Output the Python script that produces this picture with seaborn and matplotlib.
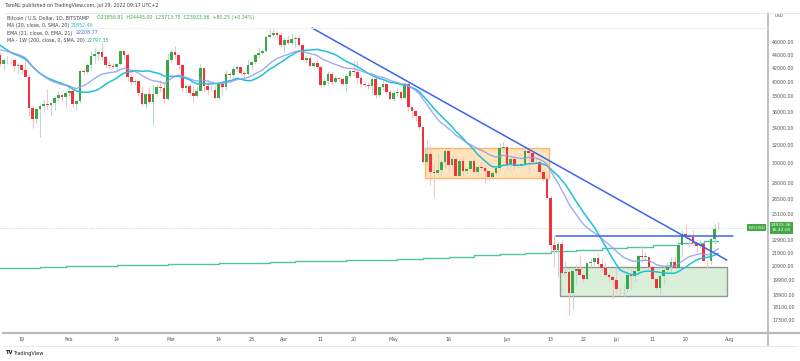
import numpy as np
import pandas as pd
import matplotlib
matplotlib.use("Agg")
import matplotlib.pyplot as plt
import matplotlib.patches as mpatches
import matplotlib.transforms as mtransforms
from matplotlib.lines import Line2D
from matplotlib.ticker import NullLocator
import seaborn as sns

sns.set_style("white")
plt.rcParams["font.family"] = ["DejaVu Sans"]

# BTCUSD 1D (Bitstamp), 13 Jan 2022 -> 29 Jul 2022
opens = [
    43920, 42590, 43100, 43180, 43110, 42250, 42390, 41700, 40700, 36460, 35080, 36280, 36700, 36960, 36850, 37170, 37750, 38170, 37920,
    38480, 38740, 36950, 37330, 41570, 41410, 42410, 43840, 44100, 44350, 43560, 42400, 42200, 42090, 42570, 44580, 43950, 40600, 40000, 40100, 38400, 37000, 38300, 37300, 38330, 39230, 39100, 37700,
    43190, 44420, 43920, 42450, 39150, 39400, 38420, 38060, 38740, 41980, 39440, 38800, 38900, 37800, 39670, 39300, 41140, 40950, 41800, 42190, 41250, 41080, 42370, 42900, 44000, 44330, 44540, 46820, 47130, 47460, 47070,
    45530, 46300, 45830, 46420, 46600, 45500, 43170, 43450, 42250, 42750, 42160, 39530, 40070, 41150, 39940, 40550, 40400, 39700, 40800, 41500, 41370, 40480, 39710, 39470, 39450, 40430, 38120, 39240, 39740, 38600,
    37640, 38470, 38530, 37750, 39700, 36570, 36040, 35500, 34060, 30100, 31000, 29100, 29050, 29300, 30100, 31300, 29860, 30420, 28700, 30300, 29200, 29430, 30300, 29100, 29650, 29540, 29200, 28630, 29030, 29470, 31720,
    31790, 29800, 30450, 29700, 29860, 29900, 31370, 31130, 30200, 30110, 29080, 28400, 26560, 22480, 22130, 22580, 20380, 20450, 19000, 20550, 20700, 20280, 19970, 21100, 21230, 21500, 21030, 20730, 20280, 20100,
    19930, 19290, 19250, 19300, 20230, 20190, 20550, 21630, 21590, 21600, 20850, 19960, 19320, 20210, 20580, 20830, 21190, 20780, 22480, 23390, 23230, 23160, 22680, 22450, 22580, 21310, 21250, 22960, 23856.91,
]
highs = [
    44400, 43450, 43800, 43500, 43180, 42700, 42550, 43500, 41100, 36850, 36500, 37000, 37500, 38950, 37250, 38000, 38700, 38350, 38700,
    39250, 38850, 37350, 41750, 41950, 42650, 44500, 45000, 44800, 45800, 43900, 43000, 42700, 42800, 44700, 44580, 44200, 40950, 40450, 40150, 39450, 38400, 39200, 39700, 39700, 40300, 39850, 44200,
    44950, 45400, 44100, 42500, 39650, 39650, 39450, 39400, 42600, 42000, 40250, 39500, 39350, 39900, 39900, 41700, 41450, 42300, 42400, 42300, 41550, 43400, 43000, 44200, 45100, 44800, 46900, 48200, 48100, 47700, 47600,
    46700, 47200, 47450, 46900, 47200, 45500, 43900, 43950, 42800, 43400, 42400, 40700, 41550, 41500, 40850, 40700, 40600, 41100, 41750, 42950, 42950, 40800, 39950, 39900, 40600, 40800, 39450, 40350, 39900, 38800,
    38650, 39150, 38650, 39950, 39800, 36650, 36150, 35500, 34250, 32600, 32150, 30000, 31000, 30350, 31400, 31350, 31000, 30700, 30500, 30750, 29600, 30450, 30650, 29850, 30200, 29850, 29350, 29200, 29550, 32200, 32350,
    31950, 30650, 30650, 29950, 30150, 31700, 31550, 31300, 30650, 30350, 29450, 28550, 26850, 23300, 22750, 22950, 21300, 20750, 20750, 21050, 21700, 20400, 21150, 21500, 21550, 21850, 21500, 21150, 20400, 20150,
    20850, 19400, 19650, 20300, 20700, 20650, 21800, 22500, 21950, 21600, 20900, 20050, 20300, 20850, 21200, 21550, 21650, 22700, 23750, 24250, 23400, 23750, 23000, 23000, 22650, 21350, 23100, 24200, 24445,
]
lows = [
    42300, 41750, 42600, 42600, 41550, 41300, 41150, 40600, 35500, 34000, 34600, 32950, 36000, 36300, 35550, 36200, 37350, 37400, 36650,
    38000, 36650, 36250, 37050, 40950, 41100, 41700, 42700, 43200, 43200, 42000, 41800, 41900, 41600, 42450, 43350, 40100, 39500, 39700, 38000, 36800, 36400, 37100, 34300, 38050, 38600, 37050, 37450,
    42850, 43400, 41850, 38600, 38600, 38100, 37200, 37900, 38650, 38600, 38250, 38650, 37600, 37600, 38150, 38850, 40550, 40200, 41550, 40950, 40500, 40900, 41900, 42600, 43650, 44100, 44400, 46650, 46950, 46600, 45250,
    44250, 45650, 45550, 45150, 45400, 43100, 42750, 42150, 42150, 42000, 39200, 39250, 39600, 39600, 39800, 40000, 39550, 38550, 40600, 40950, 39800, 39200, 39300, 39050, 38200, 37800, 37900, 38900, 38200, 37600,
    37400, 38050, 37500, 37650, 35900, 35250, 34850, 33750, 30050, 29750, 27800, 26700, 28800, 28650, 29500, 29100, 29450, 28700, 28700, 28750, 28950, 29250, 28900, 28650, 29300, 28050, 28300, 28450, 28800, 29300, 31250,
    29350, 29600, 29300, 29500, 29500, 29900, 29250, 29900, 29950, 28900, 28150, 26550, 22050, 20850, 20100, 20250, 20250, 17600, 17950, 19650, 20350, 19750, 19900, 20800, 20900, 21000, 20550, 20200, 19850, 18650,
    19000, 18950, 18800, 19050, 19300, 19800, 20300, 21200, 21350, 20650, 19900, 19250, 18900, 19650, 20400, 20450, 20800, 20750, 21600, 22950, 22350, 22500, 21950, 22300, 21300, 20750, 21050, 22600, 23713.75,
]
closes = [
    42590, 43100, 43180, 43110, 42250, 42390, 41700, 40700, 36460, 35080, 36280, 36700, 36960, 36850, 37170, 37750, 38170, 37920, 38480,
    38740, 36950, 37330, 41570, 41410, 42410, 43840, 44100, 44350, 43560, 42400, 42200, 42090, 42570, 44580, 43950, 40600, 40000, 40100, 38400, 37000, 38300, 37300, 38330, 39230, 39100, 37700, 43190,
    44420, 43920, 42450, 39150, 39400, 38420, 38060, 38740, 41980, 39440, 38800, 38900, 37800, 39670, 39300, 41140, 40950, 41800, 42190, 41250, 41080, 42370, 42900, 44000, 44330, 44540, 46820, 47130, 47460, 47070, 45530,
    46300, 45830, 46420, 46600, 45500, 43170, 43450, 42250, 42750, 42160, 39530, 40070, 41150, 39940, 40550, 40400, 39700, 40800, 41500, 41370, 40480, 39710, 39470, 39450, 40430, 38120, 39240, 39740, 38600, 37640,
    38470, 38530, 37750, 39700, 36570, 36040, 35500, 34060, 30100, 31000, 29100, 29050, 29300, 30100, 31300, 29860, 30420, 28700, 30300, 29200, 29430, 30300, 29100, 29650, 29540, 29200, 28630, 29030, 29470, 31720, 31790,
    29800, 30450, 29700, 29860, 29900, 31370, 31130, 30200, 30110, 29080, 28400, 26560, 22480, 22130, 22580, 20380, 20450, 19000, 20550, 20700, 20280, 19970, 21100, 21230, 21500, 21030, 20730, 20280, 20100, 19930,
    19290, 19250, 19300, 20230, 20190, 20550, 21630, 21590, 21600, 20850, 19960, 19320, 20210, 20580, 20830, 21190, 20780, 22480, 23390, 23230, 23160, 22680, 22450, 22580, 21310, 21250, 22960, 23850, 23933.36,
]
# closes 14 Dec 2021 -> 12 Jan 2022, only used to warm up the moving averages
warmup_closes = [48380, 48900, 47640, 46200, 46850, 46700, 46900, 48950, 48630, 50820, 50430, 50800, 50640, 50700,
                 47540, 46460, 47120, 46220, 47720, 47290, 46440, 45830, 43430, 43080, 41560, 41730, 41860, 41820,
                 42740, 43920]
# 200-week SMA, one value per weekly bar (Mondays from 10 Jan)
wma200 = [20750, 20790, 20830, 20870, 20910, 20950, 20990, 21030, 21070, 21110, 21150, 21200, 21250, 21290, 21330,
          21370, 21440, 21520, 21610, 21700, 21800, 21920, 22040, 22150, 22260, 22380, 22500, 22640, 22797.35]

tick_dates = ["2022-01-19", "2022-02-01", "2022-02-14", "2022-03-01", "2022-03-14", "2022-03-23", "2022-04-01",
              "2022-04-11", "2022-04-20", "2022-05-01", "2022-05-16", "2022-06-01", "2022-06-13", "2022-06-22",
              "2022-07-01", "2022-07-11", "2022-07-20", "2022-08-01"]
tick_labels = ["19", "Feb", "14", "Mar", "14", "23", "Apr", "11", "20", "May", "16", "Jun", "13", "22",
               "Jul", "11", "20", "Aug"]
price_ticks = [46000, 44000, 42000, 40000, 38000, 36000, 34000, 32000, 30000, 28000, 26500, 25100,
               22900, 21900, 20900, 19900, 18900, 18100, 17300]

# user drawings on the chart (day-of-year, price)
trend_start, trend_end = (97.6, 48320), (211.3, 21350)
hline_level, hline_span = 23230, (164.4, 213.0)
orange_box = (128.5, 162.5, 28500, 31670)
green_box = (165.5, 211.3, 18810, 20830)

T0 = pd.Timestamp("2022-01-01")
df = pd.DataFrame({"open": opens, "high": highs, "low": lows, "close": closes},
                  index=pd.date_range("2022-01-13", periods=len(closes), freq="D"))
df["day"] = (df.index - T0).days
allc = pd.Series(warmup_closes + closes)
df["sma20"] = allc.rolling(20).mean().iloc[len(warmup_closes):].to_numpy()
df["ema21"] = allc.ewm(span=21, adjust=False).mean().iloc[len(warmup_closes):].to_numpy()
weeks = pd.date_range("2022-01-10", periods=len(wma200), freq="7D")
wdays = list((weeks - T0).days) + [df["day"].iloc[-1]]
wvals = wma200 + [wma200[-1]]

UP, DN = "#3aa845", "#f0323c"
UPW, DNW = "#bcd9d5", "#f7c2c6"

W, H = 800, 361
fig = plt.figure(figsize=(W / 100, H / 100), dpi=100)
ax = fig.add_axes([0, 1 - 331 / H, 768 / W, (331 - 13) / H])
ax.set_yscale("log")
ax.set_ylim(16630, 50945)
ax.set_xlim(12.03, 222.6)

up = df["close"] >= df["open"]
ax.vlines(df["day"][up], df["low"][up], df["high"][up], color=UPW, lw=0.8, zorder=3)
ax.vlines(df["day"][~up], df["low"][~up], df["high"][~up], color=DNW, lw=0.8, zorder=3)
body_lo = np.minimum(df["open"], df["close"])
body_h = np.abs(df["close"] - df["open"]).clip(lower=40)
ax.bar(df["day"], body_h, bottom=body_lo, width=0.74, color=np.where(up, UP, DN), zorder=4, linewidth=0)

ax.step(wdays, wvals, where="post", color="#4fc4a6", lw=1.0, zorder=2)
sns.lineplot(x=df["day"], y=df["sma20"], ax=ax, color="#1fc0d8", lw=1.1, zorder=5)
sns.lineplot(x=df["day"], y=df["ema21"], ax=ax, color="#8c9ef2", lw=1.0, alpha=0.85, zorder=5)

ob = orange_box
ax.add_patch(mpatches.Rectangle((ob[0], ob[2]), ob[1] - ob[0], ob[3] - ob[2], facecolor="#ffe0b5",
                                edgecolor="#f9b15a", lw=1.0, alpha=0.9, zorder=1))
gb = green_box
ax.add_patch(mpatches.Rectangle((gb[0], gb[2]), gb[1] - gb[0], gb[3] - gb[2], facecolor="#d9efd9",
                                edgecolor="#8d9a8d", lw=1.0, zorder=1))
ax.plot([trend_start[0], trend_end[0]], [trend_start[1], trend_end[1]], color="#3b64f0", lw=1.1, zorder=6)
ax.plot(hline_span, [hline_level, hline_level], color="#3b64f0", lw=1.1, zorder=6)

last = closes[-1]
ax.axhline(last, color=UP, lw=0.5, ls=(0, (1, 1.5)), alpha=0.5, zorder=1)

ax.set_xlabel("")
ax.set_ylabel("")
ax.set_xticks([(pd.Timestamp(d) - T0).days for d in tick_dates])
ax.set_xticklabels(tick_labels)
ax.yaxis.tick_right()
ax.set_yticks(price_ticks)
ax.set_yticklabels([f"{v:.2f}" for v in price_ticks])
ax.yaxis.set_minor_locator(NullLocator())
ax.tick_params(axis="both", length=0, labelsize=3.4, colors="#555555")
ax.tick_params(axis="x", pad=4.2)
ax.tick_params(axis="y", pad=3)
for s in ax.spines.values():
    s.set_visible(False)

blend = mtransforms.blended_transform_factory(ax.transAxes, ax.transData)
ax.text(1.004, last, "23933.36\n16:42:05", transform=blend, fontsize=3.2, color="white", va="center",
        ha="left", linespacing=1.3,
        bbox=dict(boxstyle="square,pad=0.35", facecolor="#43a843", edgecolor="none"), zorder=10, clip_on=False)
ax.text(0.996, last, "BTCUSD", transform=blend, fontsize=3.0, color="white", va="center", ha="right",
        bbox=dict(boxstyle="square,pad=0.3", facecolor="#43a843", edgecolor="none"), zorder=10)


def fx(x):
    return x / W


def fy(y):
    return 1 - y / H


fig.add_artist(Line2D([fx(768), fx(768)], [fy(13), fy(346)], color="#b8bbc2", lw=1.3))
fig.add_artist(Line2D([fx(3), fx(800)], [fy(332.5), fy(332.5)], color="#b8bbc2", lw=1.6))
fig.add_artist(Line2D([fx(3), fx(798)], [fy(345.5), fy(345.5)], color="#e3e4e8", lw=0.6))
fig.add_artist(Line2D([fx(5), fx(800)], [fy(12.5), fy(12.5)], color="#e3e4e8", lw=0.6))
fig.add_artist(Line2D([fx(5), fx(768)], [fy(27.5), fy(27.5)], color="#eeeff2", lw=0.6))

dark = "#3c3f47"
fs = 3.4
fig.text(fx(5), fy(6), "TaroNL published on TradingView.com, Jul 29, 2022 09:17 UTC+2", fontsize=fs,
         color=dark, va="center")
fig.text(fx(7), fy(18), "Bitcoin / U.S. Dollar, 1D, BITSTAMP", fontsize=fs, color=dark, va="center")
fig.text(fx(97), fy(18), "O23856.91  H24445.00  L23713.75  C23933.36  +80.25 (+0.34%)", fontsize=fs,
         color="#3aa845", va="center")
fig.text(fx(7), fy(25.5), "MA (20, close, 0, SMA, 20)", fontsize=fs, color=dark, va="center")
fig.text(fx(71), fy(25.5), "21852.49", fontsize=fs, color="#1fb8d3", va="center")
fig.text(fx(7), fy(33), "EMA (21, close, 0, EMA, 21)", fontsize=fs, color=dark, va="center")
fig.text(fx(76), fy(33), "22208.77", fontsize=fs, color="#3d6cf5", va="center")
fig.text(fx(7), fy(40.5), "MA - 1W (200, close, 0, SMA, 20)", fontsize=fs, color=dark, va="center")
fig.text(fx(87), fy(40.5), "22797.35", fontsize=fs, color="#2aa58a", va="center")
fig.text(fx(775), fy(16), "USD", fontsize=3.2, color="#555555", va="center")
fig.text(fx(5), fy(353), "TV", fontsize=3.8, color="#131722", va="center", fontweight="bold")
fig.text(fx(13), fy(353), "TradingView", fontsize=3.6, color="#131722", va="center")

fig.savefig("out.png", dpi=100)
